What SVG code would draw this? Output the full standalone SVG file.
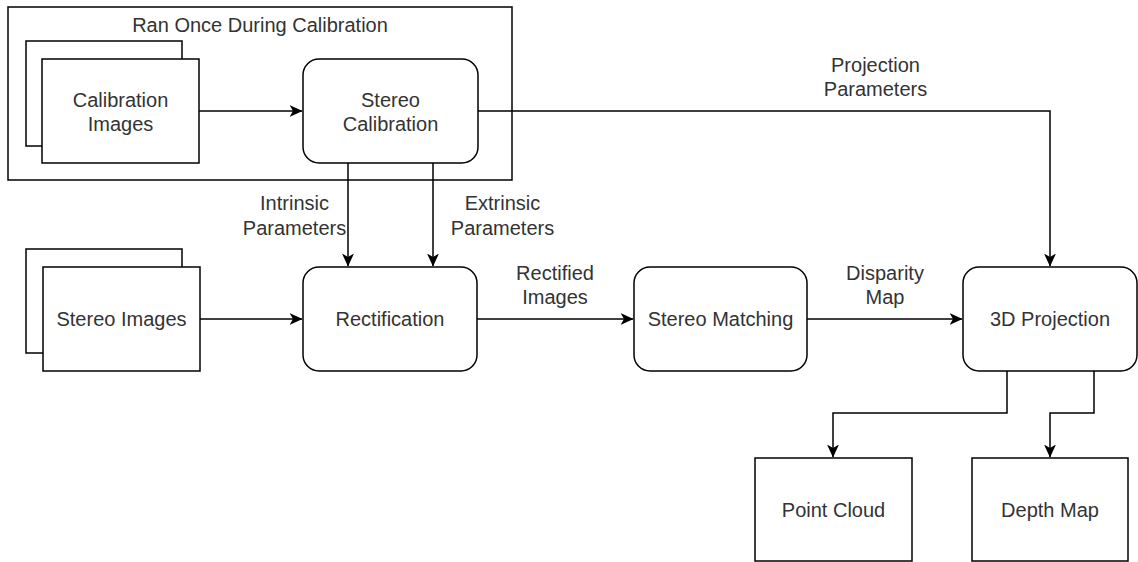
<svg xmlns="http://www.w3.org/2000/svg" width="1138" height="562" viewBox="0 0 1138 562">
<defs>
<style>
.box{fill:#fff;stroke:#000;stroke-width:1.5}
.grp{fill:none;stroke:#000;stroke-width:1.5}
.edge{fill:none;stroke:#000;stroke-width:1.5}
text{font-family:"Liberation Sans",Arial,sans-serif;font-size:20px;fill:#333;text-anchor:middle}
</style>
<marker id="arr" markerUnits="userSpaceOnUse" markerWidth="13" markerHeight="12" viewBox="0 0 13 12" refX="12.5" refY="6" orient="auto">
<path d="M0,0 L13,6 L0,12 L3.5,6 z" fill="#000"/>
</marker>
</defs>
<rect width="1138" height="562" fill="#fff"/>
<g id="calibration-group">
<rect class="grp" x="8" y="7" width="504" height="173"/>
<text x="260" y="32">Ran Once During Calibration</text>
</g>
<g id="connectors">
<path class="edge" d="M199,111 L302,111" marker-end="url(#arr)"/>
<path class="edge" d="M348,163 L348,266" marker-end="url(#arr)"/>
<path class="edge" d="M433,163 L433,266" marker-end="url(#arr)"/>
<path class="edge" d="M478,111 L1050,111 L1050,266" marker-end="url(#arr)"/>
<path class="edge" d="M200,319 L302,319" marker-end="url(#arr)"/>
<path class="edge" d="M477,319 L633,319" marker-end="url(#arr)"/>
<path class="edge" d="M807,319 L962,319" marker-end="url(#arr)"/>
<path class="edge" d="M1007,371 L1007,413 L833,413 L833,457" marker-end="url(#arr)"/>
<path class="edge" d="M1094,371 L1094,413 L1050,413 L1050,457" marker-end="url(#arr)"/>
<text x="294.5" y="210">Intrinsic</text>
<text x="294.5" y="235">Parameters</text>
<text x="502.5" y="210">Extrinsic</text>
<text x="502.5" y="235">Parameters</text>
<text x="875.5" y="72">Projection</text>
<text x="875.5" y="96">Parameters</text>
<text x="555" y="280">Rectified</text>
<text x="555" y="304">Images</text>
<text x="885" y="280">Disparity</text>
<text x="885" y="304">Map</text>
</g>
<g id="calibration-images">
<rect class="box" x="26" y="41" width="156" height="105"/>
<rect class="box" x="42" y="59" width="157" height="104"/>
<text x="120.5" y="107">Calibration</text>
<text x="120.5" y="131">Images</text>
</g>
<g id="stereo-calibration">
<rect class="box" x="303" y="59" width="175" height="104" rx="16" ry="16"/>
<text x="390.5" y="107">Stereo</text>
<text x="390.5" y="131">Calibration</text>
</g>
<g id="stereo-images">
<rect class="box" x="26" y="249" width="156" height="104"/>
<rect class="box" x="43" y="267" width="157" height="104"/>
<text x="121.5" y="326">Stereo Images</text>
</g>
<g id="rectification">
<rect class="box" x="303" y="267" width="174" height="104" rx="16" ry="16"/>
<text x="390" y="326">Rectification</text>
</g>
<g id="stereo-matching">
<rect class="box" x="634" y="267" width="173" height="104" rx="16" ry="16"/>
<text x="720.5" y="326">Stereo Matching</text>
</g>
<g id="projection-3d">
<rect class="box" x="963" y="267" width="174" height="104" rx="16" ry="16"/>
<text x="1050" y="326">3D Projection</text>
</g>
<g id="point-cloud">
<rect class="box" x="755" y="458" width="157" height="103"/>
<text x="833.5" y="517">Point Cloud</text>
</g>
<g id="depth-map">
<rect class="box" x="972" y="458" width="156" height="103"/>
<text x="1050" y="517">Depth Map</text>
</g>
</svg>
